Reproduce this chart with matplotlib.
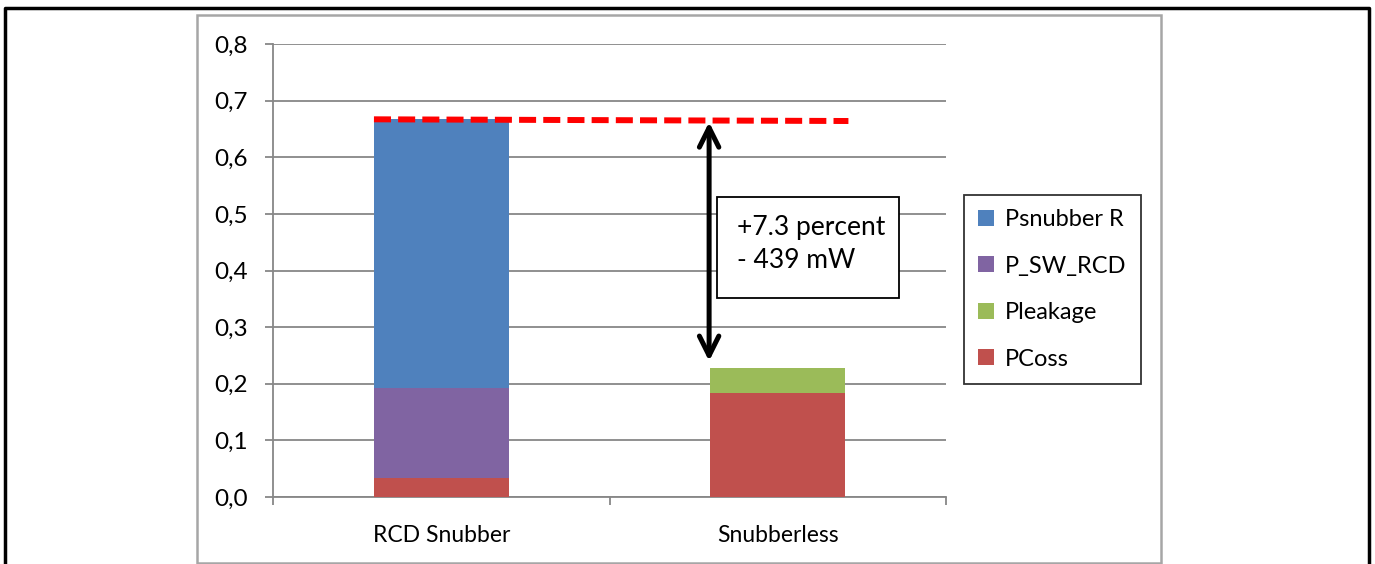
import numpy as np
import matplotlib
matplotlib.use('Agg')
import matplotlib.pyplot as plt
from matplotlib.patches import Rectangle
from matplotlib.lines import Line2D

plt.rcParams['font.family'] = ['Lato', 'DejaVu Sans']

# Data
categories = ['RCD Snubber', 'Snubberless']
pcoss = [0.034, 0.183]
pleakage = [0.0, 0.045]
p_sw_rcd = [0.159, 0.0]
psnubber_r = [0.474, 0.0]
y_ticks = [0.0, 0.1, 0.2, 0.3, 0.4, 0.5, 0.6, 0.7, 0.8]
note_text = '+7.3 percent\n- 439 mW'

colors = {'PCoss': '#C0504D', 'Pleakage': '#9BBB59',
          'P_SW_RCD': '#8064A2', 'Psnubber R': '#4F81BD'}
grid_col = '#878787'

W, H = 1375, 564
fig = plt.figure(figsize=(W / 100, H / 100), dpi=100)

# outer black frame (bottom edge is cut off) and gray chart frame
fig.add_artist(Line2D([5 / W, 5 / W, 1369 / W, 1369 / W],
                      [0, 1 - 8 / H, 1 - 8 / H, 0],
                      color='black', lw=2.5, transform=fig.transFigure))
fig.add_artist(Rectangle((197 / W, 1 - 563 / H), (1161 - 197) / W, (563 - 15) / H,
                         fill=False, edgecolor='#a6a6a6', lw=1.8,
                         transform=fig.transFigure))

ax = fig.add_axes([273 / W, 1 - 497 / H, (946 - 273) / W, (497 - 44) / H])

x = np.arange(len(categories))
bw = 0.4
stack = [('PCoss', pcoss), ('Pleakage', pleakage),
         ('P_SW_RCD', p_sw_rcd), ('Psnubber R', psnubber_r)]
bottom = np.zeros(len(categories))
for name, vals in stack:
    vals = np.array(vals)
    ax.bar(x, vals, bw, bottom=bottom, color=colors[name], label=name, zorder=3)
    bottom += vals
totals = bottom

ax.set_xlim(-0.5, 1.5)
ax.set_ylim(0, 0.8)
ax.set_yticks(y_ticks)
ax.set_yticklabels([f'{v:.1f}'.replace('.', ',') for v in y_ticks], fontsize=17.5)
ax.set_xticks(x)
ax.set_xticklabels(categories, fontsize=16.5)
ax.set_xticks([-0.5, 0.5, 1.5], minor=True)
ax.tick_params(axis='x', which='major', length=0, pad=20)
ax.tick_params(axis='x', which='minor', length=6, width=1.3, color=grid_col)
ax.tick_params(axis='y', length=6, width=1.3, color=grid_col, pad=12)
ax.yaxis.grid(True, color=grid_col, lw=1.3, zorder=0)
ax.set_axisbelow(True)
for s in ['top', 'right']:
    ax.spines[s].set_visible(False)
for s in ['left', 'bottom']:
    ax.spines[s].set_color(grid_col)
    ax.spines[s].set_linewidth(1.3)

# red dashed line at the RCD total
ax.plot([x[0] - bw / 2, x[1] + bw / 2 + 0.01], [totals[0], totals[0] - 0.003],
        color='red', lw=4.3, ls=(0, (2.85, 1.2)), zorder=4, solid_capstyle='butt')

# double-headed arrow between the two totals
ax_x = x[1] - bw / 2 - 0.004
ax.annotate('', xy=(ax_x, totals[1] + 0.012), xytext=(ax_x, totals[0] - 0.005),
            arrowprops=dict(arrowstyle='<->,head_length=1.4,head_width=0.7',
                            color='black', lw=3.6, shrinkA=0, shrinkB=0),
            zorder=5)

# annotation box
ax.add_patch(Rectangle((0.819, 0.3516), 1.360 - 0.819, 0.530 - 0.3516,
                       facecolor='white', edgecolor='black', lw=1.3, zorder=6,
                       clip_on=False))
ax.text(0.878, 0.446, note_text, fontsize=19, va='center', ha='left',
        linespacing=1.4, zorder=7)

# legend, top entry last stacked
handles, labels = ax.get_legend_handles_labels()
leg = fig.legend(handles[::-1], labels[::-1], loc='upper left',
                 bbox_to_anchor=(964 / W, 1 - 195 / H), fontsize=17,
                 frameon=True, fancybox=False, edgecolor='black',
                 handlelength=0.65, handleheight=0.65, handletextpad=0.5,
                 labelspacing=1.08, borderpad=0.6, borderaxespad=0)
leg.get_frame().set_linewidth(1.3)

fig.savefig('out.png', dpi=100)
